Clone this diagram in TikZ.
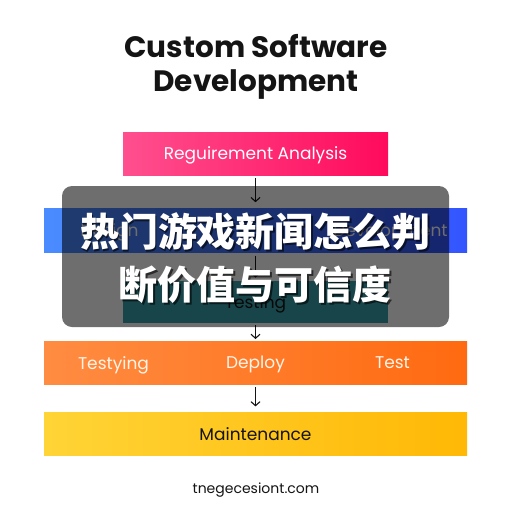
\documentclass[tikz,border=0pt]{standalone}
\usepackage{fontspec}
\setmainfont{Poppins}
\newfontfamily\cjk{Noto Sans CJK SC}
\usepackage{xcolor}
\definecolor{cPinkL}{HTML}{FF4F8E}
\definecolor{cPinkR}{HTML}{FF0A5C}
\definecolor{cBlueL}{HTML}{4A8CFF}
\definecolor{cBlueR}{HTML}{3355FF}
\definecolor{cTeal}{HTML}{36A2AD}
\definecolor{cOrangeL}{HTML}{FF8C42}
\definecolor{cOrangeR}{HTML}{FF6A10}
\definecolor{cYellowL}{HTML}{FFD436}
\definecolor{cYellowR}{HTML}{FFB805}
\definecolor{cInk}{HTML}{141414}
\definecolor{cCream}{HTML}{FFF4E8}
\usepackage{tikz}
\usetikzlibrary{positioning,arrows.meta}
\tikzset{
  stage-box/.style={inner sep=0pt,minimum height=43pt,align=center,
    text depth=0pt,font=\fontsize{17}{20}\selectfont},
  stage-narrow/.style={stage-box,minimum width=265pt},
  stage-wide/.style={stage-box,minimum width=423pt},
  stage-txt/.style={inner sep=0pt,text depth=0pt,
    font=\fontsize{17}{20}\selectfont},
  arrow/.style={-{Straight Barb[length=4pt,width=9pt]},line width=1.1pt,
    draw=cInk,shorten <=3pt,shorten >=6pt},
  veil/.style={fill=black,fill opacity=0.57,rounded corners=10pt,
    inner sep=0pt},
  veil-txt/.style={inner sep=0pt,align=center,text=white,
    font=\cjk\bfseries\fontsize{39}{53}\selectfont},
}

\begin{document}
\begin{tikzpicture}[x=1pt,y=-1pt]
  \useasboundingbox[fill=white] (0,0) rectangle (512,512);
  \node[font=\bfseries\fontsize{29.5}{34}\selectfont,align=center,text=cInk]
    (title) at (256,67) {Custom Software\\Development};
  % stages
  \node[stage-narrow,left color=cPinkL,right color=cPinkR,text=white]
    (req) at (255.5,153.5) {Reguirement Analysis};
  \node[stage-wide,below=33pt of req,minimum height=44pt,
    left color=cBlueL,right color=cBlueR] (dd) {};
  \node[stage-narrow,below=28pt of dd,minimum height=42pt,fill=cTeal,
    text=cInk] (test) {Testing};
  \node[stage-wide,below=18pt of test,
    left color=cOrangeL,right color=cOrangeR] (dep) {};
  \node[stage-wide,below=28pt of dep,
    left color=cYellowL,right color=cYellowR,text=cInk] (maint) {Maintenance};
  \node[stage-txt,text=white] (dsg) at ([xshift=-146pt]dd.center) {Design};
  \node[stage-txt,text=white] (dev) at ([xshift=135pt]dd.center) {Development};
  \node[stage-txt,text=cCream] (tsy) at ([xshift=-142pt]dep.center) {Testying};
  \node[stage-txt,text=cCream] (dpl) at (dep.center) {Deploy};
  \node[stage-txt,text=cCream] (tst) at ([xshift=137pt]dep.center) {Test};
  \draw[arrow] (req) -- (dd);
  \draw[arrow,shorten >=3pt] (dd) -- (test);
  \draw[arrow,shorten <=2pt,shorten >=2pt] (test) -- (dep);
  \draw[arrow] (dep) -- (maint);
  \node[font=\fontsize{14}{16}\selectfont,text=cInk] (site) at (256,490)
    {tnegecesiont.com};
  % overlay
  \node[veil,minimum width=387pt,minimum height=141pt] (veil)
    at (255.5,256.5) {};
  \node[veil-txt,text=black,opacity=0.6] (headline-sh)
    at ([shift={(1.5,3.5)}]veil.center) {热门游戏新闻怎么判\\断价值与可信度};
  \node[veil-txt] (headline) at ([yshift=-2pt]veil.center)
    {热门游戏新闻怎么判\\断价值与可信度};
\end{tikzpicture}
\end{document}
